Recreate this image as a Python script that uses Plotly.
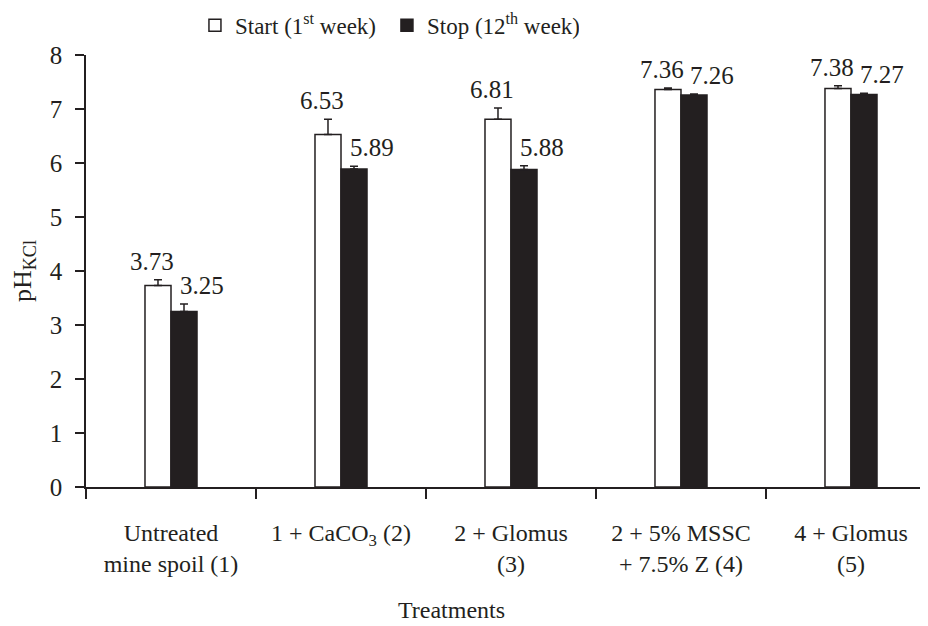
import plotly.graph_objects as go

categories = ["Untreated<br>mine spoil (1)", "1 + CaCO<sub>3</sub> (2)", "2 + Glomus<br>(3)",
              "2 + 5% MSSC<br>+ 7.5% Z (4)", "4 + Glomus<br>(5)"]
start_vals = [3.73, 6.53, 6.81, 7.36, 7.38]
stop_vals = [3.25, 5.89, 5.88, 7.26, 7.27]
start_err = [0.11, 0.28, 0.21, 0.03, 0.05]
stop_err = [0.14, 0.05, 0.07, 0.02, 0.02]
y_ticks = [0, 1, 2, 3, 4, 5, 6, 7, 8]

FONT = "'Liberation Serif', 'DejaVu Serif', serif"
BLACK = "#231f20"

fig = go.Figure()
fig.add_trace(go.Bar(
    x=categories, y=start_vals, name="Start (1<sup>st</sup> week)",
    marker=dict(color="white", line=dict(color=BLACK, width=1.5)),
    error_y=dict(type="data", symmetric=False, array=start_err,
                 arrayminus=[0] * len(start_err), color=BLACK, thickness=1.5, width=4),
))
fig.add_trace(go.Bar(
    x=categories, y=stop_vals, name="Stop (12<sup>th</sup> week)",
    marker=dict(color=BLACK, line=dict(color=BLACK, width=1.5)),
    error_y=dict(type="data", symmetric=False, array=stop_err,
                 arrayminus=[0] * len(stop_err), color=BLACK, thickness=1.5, width=4),
))

annotations = []
for c, v, e in zip(categories, start_vals, start_err):
    annotations.append(dict(x=c, y=v + e, text=f"{v:.2f}", showarrow=False,
                            xref="x", yref="y", yanchor="bottom", xanchor="center",
                            xshift=-19, yshift=3, font=dict(family=FONT, size=25, color=BLACK)))
for c, v, e in zip(categories, stop_vals, stop_err):
    annotations.append(dict(x=c, y=v + e, text=f"{v:.2f}", showarrow=False,
                            xref="x", yref="y", yanchor="bottom", xanchor="center",
                            xshift=31, yshift=3, font=dict(family=FONT, size=25, color=BLACK)))
annotations.append(dict(x=0.4335, y=-0.3202, xref="paper", yref="paper", text="Treatments",
                        showarrow=False, xanchor="center", yanchor="bottom",
                        font=dict(family=FONT, size=24, color=BLACK)))

# The page body has an 8px default margin, so the figure is 8px smaller and shifted.
fig.update_layout(
    width=920, height=618,
    margin=dict(l=78, r=0, t=47, b=138.5, autoexpand=False),
    paper_bgcolor="white", plot_bgcolor="white",
    font=dict(family=FONT, size=24, color=BLACK),
    barmode="group", bargap=0.694, bargroupgap=0,
    showlegend=True,
    legend=dict(orientation="h", x=0.1294, xanchor="left", y=1.069, yanchor="middle",
                font=dict(family=FONT, size=23, color=BLACK), bgcolor="rgba(0,0,0,0)",
                traceorder="normal", entrywidth=147, entrywidthmode="pixels"),
    annotations=annotations,
)
fig.update_xaxes(
    type="category", range=[-0.5, 4.453], tickson="boundaries",
    showline=True, linecolor=BLACK, linewidth=1.5,
    ticks="outside", ticklen=10, tickwidth=1.5, tickcolor=BLACK,
    showgrid=False, zeroline=False, ticklabelstandoff=23,
    tickfont=dict(family=FONT, size=24, color=BLACK),
)
fig.update_yaxes(
    range=[0, 8], tickvals=y_ticks, ticktext=[str(t) for t in y_ticks],
    showline=True, linecolor=BLACK, linewidth=1.5,
    ticks="outside", ticklen=9, tickwidth=1.5, tickcolor=BLACK,
    showgrid=False, zeroline=False, ticklabelstandoff=8,
    tickfont=dict(family=FONT, size=25, color=BLACK),
    title=dict(text="pH<sub>KCl</sub>", font=dict(family=FONT, size=26, color=BLACK), standoff=12),
)

fig.write_html("out.html")
